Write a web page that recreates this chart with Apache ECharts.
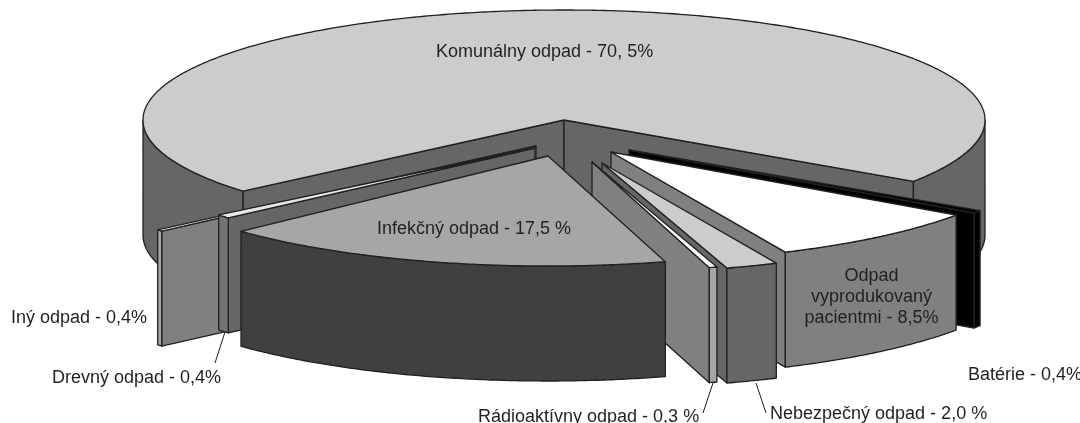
<!DOCTYPE html>
<html>
<head>
<meta charset="utf-8">
<style>
  html, body { margin: 0; padding: 0; background: #fff; }
  #chart { width: 1080px; height: 423px; }
</style>
<script src="https://cdn.jsdelivr.net/npm/echarts@6/dist/echarts.min.js"></script>
</head>
<body>
<div id="chart"></div>
<script>
// clockwise on screen, starting at the right edge of the big slice
var categories = ['Batérie', 'Odpad vyprodukovaný pacientmi', 'Nebezpečný odpad', 'Rádioaktívny odpad',
  'Infekčný odpad', 'Drevný odpad', 'Iný odpad', 'Komunálny odpad'];
var shares = [0.4, 8.5, 2.0, 0.3, 17.5, 0.4, 0.4, 70.5];

// pie look, in canvas pixels
var center = [564, 120];
var radiusX = 421;
var squash = 110 / 421;
var depth = 115;
var startAngle = 33.5;
var lineColor = '#231f20';

// one entry per category: shift from the centre, radius, extra turn, span factor and colours
var looks = [
  { dx: 65, dy: 30, r: radiusX, turn: 0, spread: 1, top: '#000000', rim: '#000000', cut: '#000000' },
  { dx: 47, dy: 32, r: radiusX, turn: 0, spread: 1, top: '#ffffff', rim: '#808080', cut: '#808080' },
  { dx: 38, dy: 43, r: radiusX, turn: 0, spread: 1, top: '#cccccc', rim: '#666666', cut: '#666666' },
  { dx: 28, dy: 42, r: radiusX, turn: 0, spread: 1, top: '#ffffff', rim: '#a6a6a6', cut: '#808080' },
  { dx: -16, dy: 36, r: radiusX, turn: 0, spread: 1, top: '#a6a6a6', rim: '#404040', cut: '#404040' },
  { dx: -29, dy: 28, r: 407, turn: 2.08, spread: 1.46, top: '#e6e6e6', rim: '#737373', cut: '#666666' },
  { dx: -28, dy: 26, r: 496, turn: 0.72, spread: 0.5, top: '#ffffff', rim: '#a6a6a6', cut: '#808080' },
  { dx: 0, dy: 0, r: radiusX, turn: 0, spread: 1.0016, top: '#cccccc', rim: '#666666', cut: '#666666' }
];

// back to front
var paintOrder = [7, 0, 1, 6, 5, 2, 3, 4];

var labels = [
  { text: 'Komunálny odpad - 70, 5%', x: 436, y: 52 },
  { text: 'Infekčný odpad - 17,5 %', x: 377, y: 229 },
  { text: 'Odpad', x: 871.5, y: 276, align: 'center' },
  { text: 'vyprodukovaný', x: 871.5, y: 297, align: 'center' },
  { text: 'pacientmi - 8,5%', x: 871.5, y: 318, align: 'center' },
  { text: 'Batérie - 0,4%', x: 968, y: 375 },
  { text: 'Iný odpad - 0,4%', x: 11, y: 318 },
  { text: 'Drevný odpad - 0,4%', x: 52, y: 378 },
  { text: 'Rádioaktívny odpad - 0,3 %', x: 478, y: 417 },
  { text: 'Nebezpečný odpad - 2,0 %', x: 770, y: 414 }
];
var leaders = [
  [225, 332, 215, 363],
  [713, 383, 703, 413],
  [756, 383, 766, 413]
];

var starts = [];
var running = startAngle;
shares.forEach(function (s) {
  starts.push(running);
  running += s * 3.6;
});

function edgePoint(apex, r, deg) {
  var t = deg * Math.PI / 180;
  return [apex[0] + r * Math.cos(t), apex[1] + r * squash * Math.sin(t)];
}

function arcPoints(apex, r, from, to) {
  var pts = [];
  var n = Math.max(2, Math.ceil((to - from) / 0.5));
  for (var i = 0; i <= n; i++) {
    pts.push(edgePoint(apex, r, from + (to - from) * i / n));
  }
  return pts;
}

function lowered(pts) {
  return pts.map(function (p) { return [p[0], p[1] + depth]; });
}

function face(points, fill, api) {
  return {
    type: 'polygon',
    shape: { points: points.map(function (p) { return api.coord(p); }) },
    style: { fill: fill, stroke: lineColor, lineWidth: 1.3, lineJoin: 'round' }
  };
}

function renderSlice(params, api) {
  var idx = api.value(0);
  var look = looks[idx];
  var apex = [center[0] + look.dx, center[1] + look.dy];
  var a = starts[idx] + look.turn;
  var b = a + api.value(1) * 3.6 * look.spread;
  var kids = [];

  // cut faces that turn towards the viewer
  [a, b].forEach(function (deg) {
    var cosine = Math.cos(deg * Math.PI / 180);
    var seen = deg === a ? cosine < 0 : cosine > 0;
    if (seen) {
      var line = [apex, edgePoint(apex, look.r, deg)];
      kids.push(face(line.concat(lowered(line).reverse()), look.cut, api));
    }
  });

  // outer wall, front half only
  [0, 360].forEach(function (k) {
    var lo = Math.max(a, k);
    var hi = Math.min(b, k + 180);
    if (hi > lo) {
      var arc = arcPoints(apex, look.r, lo, hi);
      kids.push(face(arc.concat(lowered(arc).reverse()), look.rim, api));
    }
  });

  kids.push(face([apex].concat(arcPoints(apex, look.r, a, b)), look.top, api));
  return { type: 'group', children: kids };
}

var textItems = labels.map(function (l) {
  return {
    type: 'text',
    silent: true,
    style: {
      x: l.x, y: l.y, text: l.text, fill: lineColor,
      font: '18px "Liberation Sans"',
      textAlign: l.align || 'left', textVerticalAlign: 'middle'
    },
    z: 10
  };
});
var leaderItems = leaders.map(function (l) {
  return {
    type: 'line',
    silent: true,
    shape: { x1: l[0], y1: l[1], x2: l[2], y2: l[3] },
    style: { stroke: lineColor, lineWidth: 1 },
    z: 10
  };
});

var chart = echarts.init(document.getElementById('chart'));
chart.setOption({
  animation: false,
  backgroundColor: '#ffffff',
  grid: { left: 0, right: 0, top: 0, bottom: 0 },
  xAxis: { type: 'value', min: 0, max: 1080, show: false },
  yAxis: { type: 'value', min: 0, max: 423, inverse: true, show: false },
  graphic: textItems.concat(leaderItems),
  series: [{
    type: 'custom',
    coordinateSystem: 'cartesian2d',
    renderItem: renderSlice,
    clip: false,
    data: paintOrder.map(function (i) { return [i, shares[i]]; })
  }]
});
</script>
</body>
</html>
